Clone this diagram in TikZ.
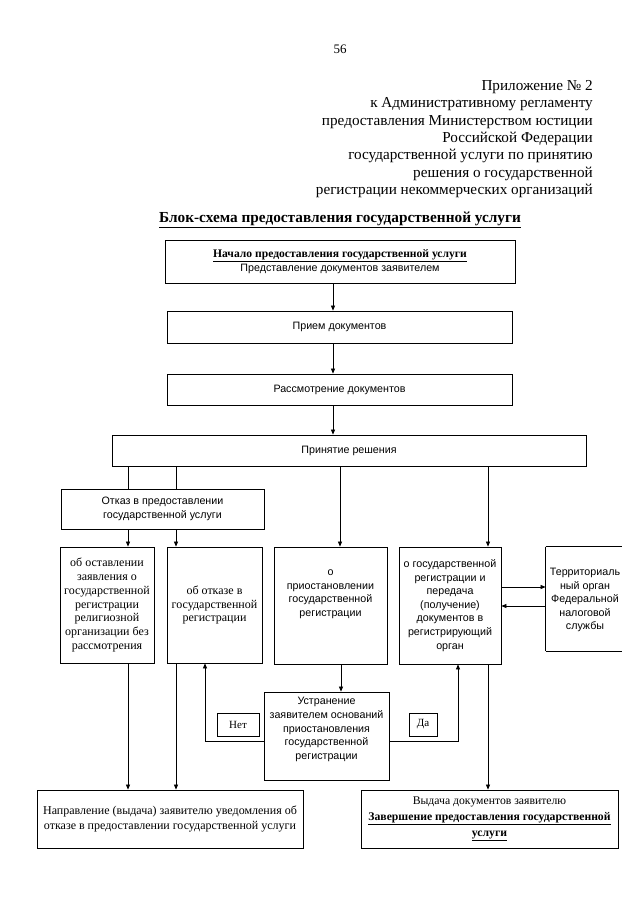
\documentclass[tikz,border=0pt]{standalone}
\usepackage{fontspec}
\setmainfont{Liberation Serif}
\newfontfamily\sansf{Liberation Sans}
\usetikzlibrary{arrows.meta}
\begin{document}
\begin{tikzpicture}[x=1pt,y=-1pt,
  box/.style={draw,line width=0.8pt,inner sep=1pt,align=center},
  sbox/.style={box,font=\sansf\fontsize{10.7}{13.6}\selectfont},
  rbox/.style={box,font=\fontsize{12}{13.8}\selectfont},
  arr/.style={line width=0.7pt,-{Triangle[length=5pt,width=4pt]}},
  ln/.style={line width=0.7pt}]
\fill[white] (0,0) rectangle (640,905);
\useasboundingbox (0,0) rectangle (640,905);

\node[font=\fontsize{13}{15}\selectfont] (page) at (340,49) {56};
\node[anchor=north east,align=right,inner sep=0,font=\fontsize{15.2}{17.4}\selectfont] (hdr) at (593,80)
 {Приложение № 2\\к Административному регламенту\\предоставления Министерством юстиции\\Российской Федерации\\государственной услуги по принятию\\решения о государственной\\регистрации некоммерческих организаций};
\node[font=\fontsize{15.3}{17}\selectfont\bfseries] (title) at (340,220)
 {\underline{Блок-схема предоставления государственной услуги}};

\node[sbox,minimum width=350,minimum height=43] (start) at (340,261.5)
 {{\rmfamily\bfseries\fontsize{11.6}{13.6}\selectfont\underline{Начало предоставления государственной услуги}}\\Представление документов заявителем};
\node[sbox,minimum width=345,minimum height=32] (recv) at (339.5,327) {Прием документов};
\node[sbox,minimum width=345,minimum height=31] (review) at (339.5,389.5) {Рассмотрение документов};
\node[sbox,minimum width=474,minimum height=31] (decide) at (349,450.5) {Принятие решения};
\node[sbox,minimum width=203,minimum height=40] (refuse) at (162.5,509) {Отказ в предоставлении\\государственной услуги};

\node[rbox,minimum width=94,minimum height=116] (A) at (107,605)
 {об оставлении\\заявления о\\государственной\\регистрации\\религиозной\\организации без\\рассмотрения};
\node[rbox,minimum width=95,minimum height=116] (B) at (214.5,605)
 {об отказе в\\государственной\\регистрации};
\node[sbox,minimum width=113,minimum height=117,text depth=25] (C) at (330.5,605.5)
 {о\\приостановлении\\государственной\\регистрации};
\node[sbox,minimum width=102,minimum height=117] (D) at (450,605.5)
 {о государственной\\регистрации и\\передача\\(получение)\\документов в\\регистрирующий\\орган};
\node[sbox,draw=none,minimum width=78,minimum height=104,text depth=0] (E) at (585,599)
 {Территориаль\\ный орган\\Федеральной\\налоговой\\службы};
\draw[line width=0.8pt] (E.north west) -- ++(76,0);
\draw[line width=0.8pt] (E.south west) -- ++(76,0);
\draw[line width=0.8pt] (E.north west) -- (E.south west);

\node[sbox,minimum width=125,minimum height=88,text depth=15] (fix) at (326.5,736)
 {Устранение\\заявителем оснований\\приостановления\\государственной\\регистрации};
\node[box,font=\fontsize{11}{12}\selectfont,minimum width=42,minimum height=23] (no) at (238,724.5) {Нет};
\node[box,font=\fontsize{11}{12}\selectfont,minimum width=28,minimum height=23] (yes) at (423,724.5) {Да};

\node[box,minimum width=266,minimum height=58,font=\fontsize{12}{15.5}\selectfont] (endL) at (170,819)
 {Направление (выдача) заявителю уведомления об\\отказе в предоставлении государственной услуги};
\node[box,minimum width=257,minimum height=58,font=\fontsize{11.7}{16}\selectfont] (endR) at (489.5,819)
 {{\fontsize{11.7}{16}\selectfont Выдача документов заявителю}\\{\bfseries\underline{Завершение предоставления государственной}}\\{\bfseries\underline{услуги}}};

\coordinate (x333) at (333,0);
\coordinate (x128) at (128,0);
\coordinate (x176) at (176,0);
\coordinate (x340) at (340,0);
\coordinate (x488) at (488,0);
\coordinate (x341) at (341,0);
\coordinate (nb) at (205,741);
\coordinate (da) at (458,741);
\coordinate (ya) at (0,587);
\coordinate (yb) at (0,606);

\draw[arr] (start.south -| x333) -- (recv.north -| x333);
\draw[arr] (recv.south -| x333) -- (review.north -| x333);
\draw[arr] (review.south -| x333) -- (decide.north -| x333);
\draw[ln] (decide.south -| x128) -- (refuse.north -| x128);
\draw[ln] (decide.south -| x176) -- (refuse.north -| x176);
\draw[arr] (refuse.south -| x128) -- (A.north -| x128);
\draw[arr] (refuse.south -| x176) -- (B.north -| x176);
\draw[arr] (decide.south -| x340) -- (C.north -| x340);
\draw[arr] (decide.south -| x488) -- (D.north -| x488);
\draw[arr] (D.east |- ya) -- (E.west |- ya);
\draw[arr] (E.west |- yb) -- (D.east |- yb);
\draw[arr] (A.south -| x128) -- (endL.north -| x128);
\draw[arr] (B.south -| x176) -- (endL.north -| x176);
\draw[arr] (C.south -| x341) -- (fix.north -| x341);
\draw[arr] (fix.west |- nb) -| (B.south -| nb);
\draw[arr] (fix.east |- da) -| (D.south -| da);
\draw[arr] (D.south -| x488) -- (endR.north -| x488);
\end{tikzpicture}
\end{document}
